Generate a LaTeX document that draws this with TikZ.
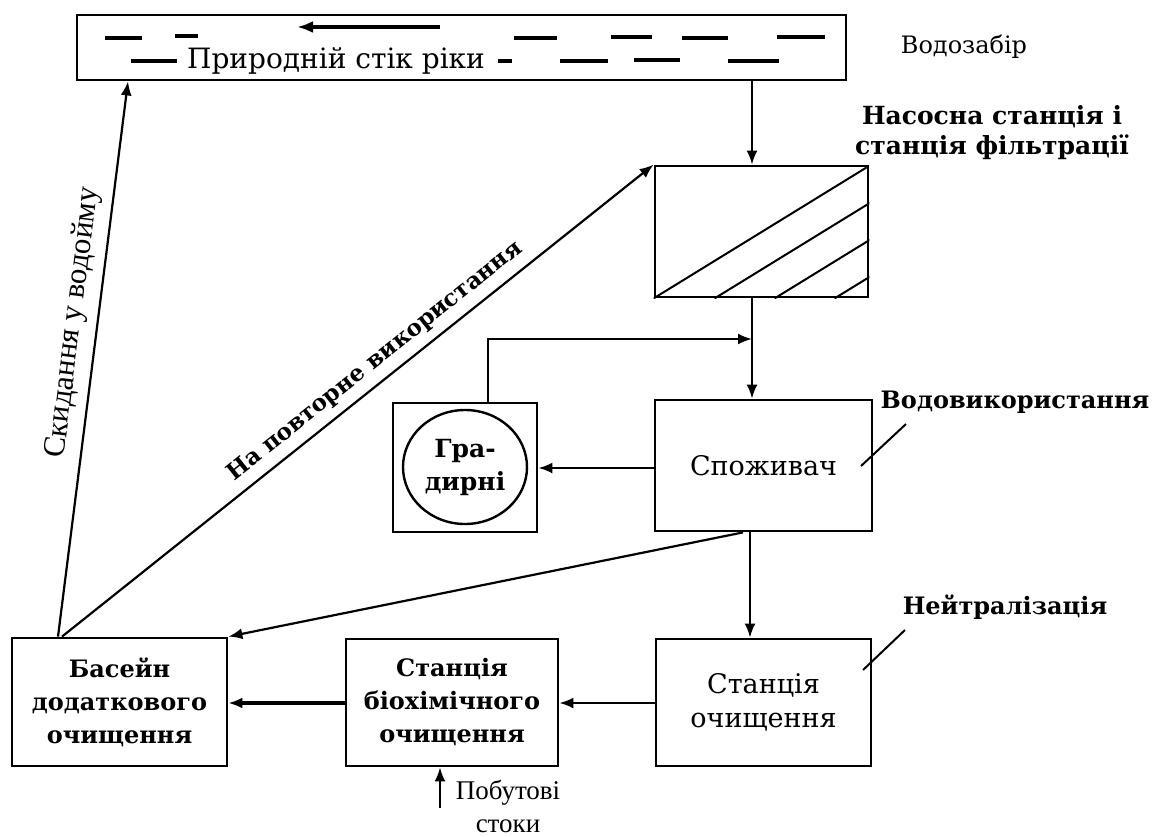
\documentclass[tikz,border=0pt]{standalone}
\usepackage{fontspec}
\setmainfont{DejaVu Serif}
\newfontfamily\narrowfont{Liberation Serif}
\usetikzlibrary{arrows.meta,shapes.geometric}
\begin{document}
\begin{tikzpicture}[x=1pt,y=-1pt,
  box/.style={draw, line width=2.8pt, inner sep=0pt, align=center},
  arr/.style={line width=2.2pt, -{Latex[length=14pt,width=11pt]}},
  plain/.style={line width=2pt},
  ripple/.style={line width=3.2pt},
  lbl/.style={font=\fontsize{24}{30}\selectfont\bfseries, align=center, inner sep=0pt},
  btxt/.style={font=\fontsize{24}{33}\selectfont\bfseries, align=center},
  rtxt/.style={font=\fontsize{27}{34}\selectfont, align=center},
  ntxt/.style={font=\narrowfont\fontsize{31}{34}\selectfont, align=center, inner sep=0pt},
]
\useasboundingbox (0,0) rectangle (1154,836);

% ---- blocks ----
\node[box, minimum width=769pt, minimum height=65pt] (river) at (461.5,47.5) {};
\node[box, minimum width=213pt, minimum height=131pt] (filter) at (761.5,231.5) {};
\node[box, minimum width=217pt, minimum height=131pt, rtxt] (spoz) at (763.5,465.5) {Споживач};
\node[box, minimum width=144pt, minimum height=129pt] (grad) at (465,467.5) {};
\node[draw, line width=2.4pt, ellipse, minimum width=124pt, minimum height=114pt, inner sep=0pt,
      align=center, font=\fontsize{25}{33}\selectfont\bfseries] (tower) at (465,467) {Гра-\\дирні};
\node[box, minimum width=215pt, minimum height=127pt, rtxt] (station) at (763.5,702.5) {Станція\\очищення};
\node[box, minimum width=212pt, minimum height=127pt, btxt] (bio) at (452,702.5) {Станція\\біохімічного\\очищення};
\node[box, minimum width=215pt, minimum height=128pt, btxt] (basin) at (119.5,702) {Басейн\\додаткового\\очищення};

% ---- river surface ----
\node[rtxt, font=\fontsize{28}{34}\selectfont, inner sep=0pt] (rivtxt) at (336,61) {Природній стік ріки};
\foreach \a/\b/\y in {105/142/38, 175/198/36, 514/557/38, 611/652/37, 682/728/38, 777/825/37,
                      131/177/61, 498/512/61, 560/608/61, 634/680/60, 728/779/61}
  \draw[ripple] (\a,\y) -- (\b,\y);
\coordinate (flowA) at (440,27);
\coordinate (flowB) at (297,27);
\draw[line width=3.2pt, -{Latex[length=16pt,width=12pt]}] (flowA) -- (flowB);

% ---- hatching of the filtration station ----
\begin{scope}
  \clip (filter.south west) rectangle (filter.north east);
  \foreach \s in {0,61,121,181}
    \draw[line width=2pt] ([xshift=\s pt]filter.south west) -- ++(213,-131);
\end{scope}
\node[box, minimum width=213pt, minimum height=131pt] at (filter) {};

% ---- flows ----
\draw[arr] (river.south -| 752,0) -- (filter.north -| 752,0);
\draw[arr] (filter.south -| 752,0) -- (spoz.north -| 752,0);
\coordinate (join) at (752,339);
\draw[arr] (grad.north -| 488,0) |- (join);
\draw[arr] (spoz.west |- 0,468) -- (grad.east |- 0,468);
\draw[arr] (spoz.south -| 750,0) -- (station.north -| 750,0);
\draw[arr] (spoz.south -| 743,0) -- (basin.north east);
\draw[arr] (station.west |- 0,703) -- (bio.east |- 0,703);
\draw[arr, line width=3.2pt] (bio.west |- 0,703) -- (basin.east |- 0,703);
\draw[arr] (basin.north -| 58,0) -- node[sloped, above=9pt, pos=0.56, ntxt] {Скидання у водойму} (river.south -| 128,0);
\draw[arr] (basin.north -| 62,0) -- node[sloped, above=8pt, pos=0.55, lbl, font=\fontsize{23}{30}\selectfont\bfseries] {На повторне використання} (filter.north west);
\coordinate (sewage) at (440,808);
\draw[arr] (sewage) -- (bio.south -| 440,0);

% ---- leaders ----
\coordinate (useA) at (861,466);
\coordinate (useB) at (906,424);
\draw[plain] (useA) -- (useB);
\coordinate (neuA) at (863,670);
\coordinate (neuB) at (905,630);
\draw[plain] (neuA) -- (neuB);

% ---- captions ----
\node[lbl, font=\fontsize{24}{30}\selectfont] (intake) at (964,47) {Водозабір};
\node[lbl, font=\fontsize{25}{30}\selectfont\bfseries] (pump) at (992,133) {Насосна станція і\\станція фільтрації};
\node[lbl] (usage) at (1015,402) {Водовикористання};
\node[lbl] (neutral) at (1005,607) {Нейтралізація};
\node[ntxt, font=\narrowfont\fontsize{27}{33}\selectfont] (domestic) at (508,806) {Побутові\\стоки};
\end{tikzpicture}
\end{document}
